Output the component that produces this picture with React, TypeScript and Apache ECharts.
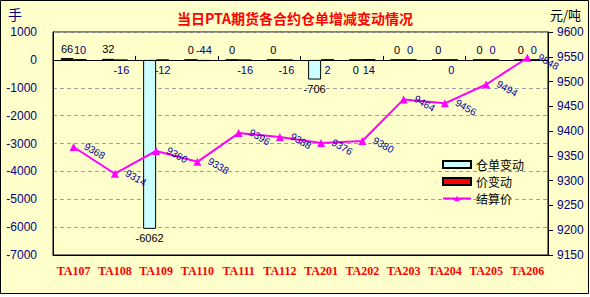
import React, { useEffect, useRef } from "react";
import * as echarts from "echarts";

const categories = ["TA107", "TA108", "TA109", "TA110", "TA111", "TA112", "TA201", "TA202", "TA203", "TA204", "TA205", "TA206"];
const stockChange = [66, 32, -6062, 0, 0, 0, -706, 0, 0, 0, 0, 0];
const priceChange = [10, -16, -12, -44, -16, -16, 2, 14, 0, 0, 0, 0];
const settlePrice = [9368, 9314, 9360, 9338, 9396, 9388, 9376, 9380, 9464, 9456, 9494, 9548];

const stockLabelPos = ["top", "top", "bottom", "top", "top", "top", "bottom", "bottom", "top", "top", "top", "top"];
const priceLabelPos = ["top", "bottom", "bottom", "top", "bottom", "bottom", "bottom", "bottom", "top", "bottom", "top", "top"];

export default function App() {
  const ref = useRef<HTMLDivElement>(null);
  useEffect(() => {
    if (!ref.current) return;
    const chart = echarts.init(ref.current, undefined, { renderer: "svg" });
    const navy = "#000080";
    chart.setOption({
      animation: false,
      backgroundColor: "#ffffff",
      graphic: [
        {
          type: "rect",
          z: -10,
          shape: { x: 0.5, y: 0.5, width: 588, height: 293 },
          style: { fill: "#FFFFCC", stroke: "#000", lineWidth: 1 },
        },
        {
          type: "text",
          left: 8,
          top: 7,
          style: { text: "手", fill: navy, fontSize: 14, fontFamily: "Noto Sans CJK SC" },
        },
        {
          type: "text",
          left: 550,
          top: 8,
          style: { text: "元/吨", fill: "#000", fontSize: 13, fontFamily: "Noto Sans CJK SC" },
        },
      ],
      title: {
        text: "当日PTA期货各合约仓单增减变动情况",
        left: "center",
        top: 6,
        textStyle: { color: "#FF0000", fontSize: 14, fontWeight: "bold", fontFamily: "Noto Sans CJK SC" },
      },
      legend: {
        orient: "vertical",
        left: 437,
        top: 153,
        itemWidth: 28,
        itemHeight: 7,
        itemGap: 4,
        textStyle: { color: "#000", fontSize: 12, fontFamily: "Noto Sans CJK SC", lineHeight: 13 },
        data: [
          { name: "仓单变动", icon: "rect" },
          { name: "价变动", icon: "rect" },
          { name: "结算价" },
        ],
      },
      grid: {
        left: 53,
        right: 42,
        top: 32,
        bottom: 42,
        show: true,
        borderColor: "#000",
        borderWidth: 1,
        backgroundColor: "transparent",
      },
      xAxis: [
        {
          type: "category",
          data: categories,
          position: "bottom",
          axisLine: { onZero: false, lineStyle: { color: "#000" } },
          axisTick: { show: false },
          axisLabel: {
            color: "#FF0000",
            fontWeight: "bold",
            fontSize: 12,
            fontFamily: "Liberation Serif",
            margin: 10,
            interval: 0,
          },
        },
        {
          type: "category",
          data: categories,
          position: "top",
          axisLine: { onZero: true, lineStyle: { color: "#000" } },
          axisTick: { show: true, inside: false, length: 4, lineStyle: { color: "#000" } },
          axisLabel: { show: false },
        },
      ],
      yAxis: [
        {
          type: "value",
          min: -7000,
          max: 1000,
          interval: 1000,
          axisLine: { show: true, lineStyle: { color: "#000" } },
          axisTick: { show: false },
          axisLabel: { color: navy, fontSize: 12, fontFamily: "Liberation Sans", margin: 16, formatter: (v: number) => String(v) },
          splitLine: { show: true, lineStyle: { color: "#a0a0a0", type: [4, 3] } },
        },
        {
          type: "value",
          min: 9150,
          max: 9600,
          interval: 50,
          position: "right",
          axisLine: { show: true, lineStyle: { color: "#000" } },
          axisTick: { show: true, length: 5, lineStyle: { color: "#000" } },
          axisLabel: { color: navy, fontSize: 12, fontFamily: "Liberation Sans", margin: 9, formatter: (v: number) => String(v) },
          splitLine: { show: false },
        },
      ],
      series: [
        {
          name: "仓单变动",
          type: "bar",
          xAxisIndex: 0,
          yAxisIndex: 0,
          barWidth: 13,
          barGap: "0%",
          itemStyle: { color: "#CCFFFF", borderColor: "#000", borderWidth: 1 },
          label: { show: true, color: "#000", fontSize: 11, fontFamily: "Liberation Sans", distance: 4 },
          data: stockChange.map((v, i) => ({ value: v, label: { position: stockLabelPos[i] } })),
        },
        {
          name: "价变动",
          type: "bar",
          xAxisIndex: 0,
          yAxisIndex: 0,
          barWidth: 13,
          barGap: "0%",
          itemStyle: { color: "#FF0000", borderColor: "#000", borderWidth: 1 },
          label: { show: true, color: navy, fontSize: 11, fontFamily: "Liberation Sans", distance: 4 },
          data: priceChange.map((v, i) => ({ value: v, label: { position: priceLabelPos[i] } })),
        },
        {
          name: "结算价",
          type: "line",
          xAxisIndex: 0,
          yAxisIndex: 1,
          symbol: "triangle",
          symbolSize: 8,
          lineStyle: { color: "#FF00FF", width: 2 },
          itemStyle: { color: "#FF00FF" },
          label: {
            show: true,
            position: [25, 8],
            rotate: -30,
            align: "center",
            verticalAlign: "middle",
            color: "#000099",
            fontSize: 10,
            fontFamily: "Liberation Sans",
          },
          data: settlePrice,
          z: 5,
        },
      ],
    });
    return () => chart.dispose();
  }, []);
  return <div ref={ref} style={{ position: "fixed", left: 0, top: 0, width: 590, height: 297 }} />;
}
